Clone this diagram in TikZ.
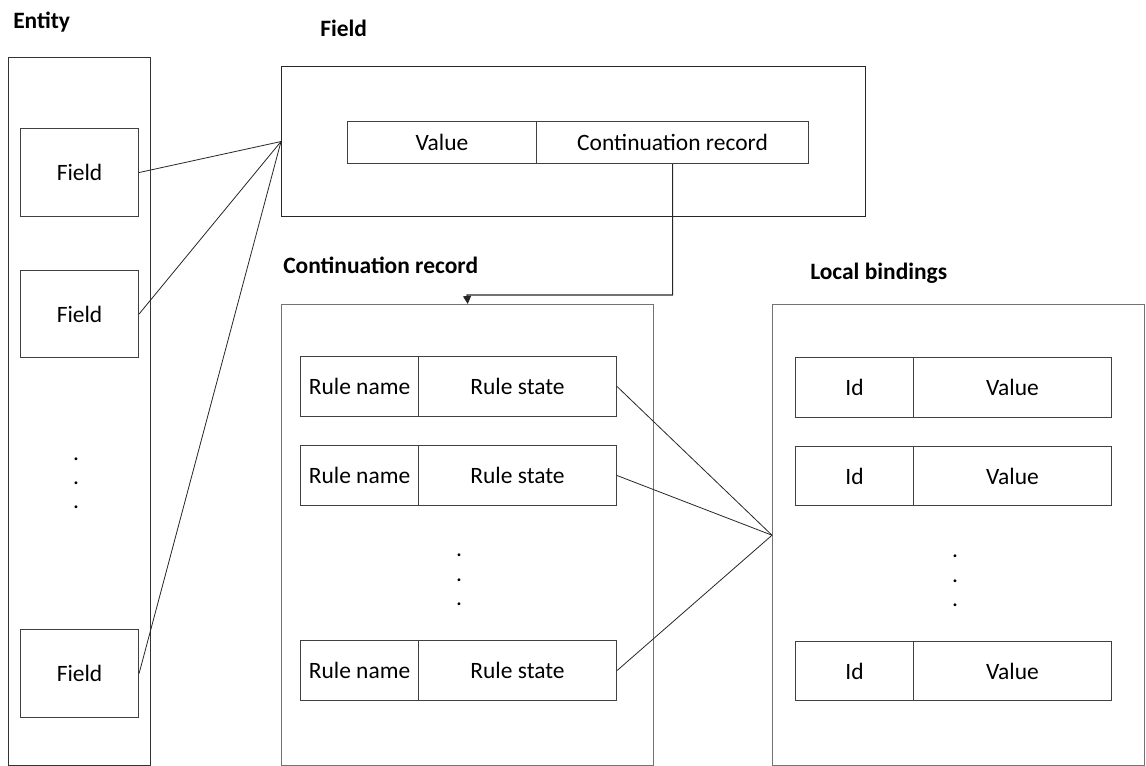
\documentclass[tikz,border=0pt]{standalone}
\usepackage{fontspec}
\setmainfont{Carlito}
\usetikzlibrary{arrows.meta}
\begin{document}
\begin{tikzpicture}[x=0.75pt,y=-0.75pt,
  bx/.style 2 args={draw=black!75, line width=0.8pt, minimum width=#1*0.75pt, minimum height=#2*0.75pt, inner sep=0pt, anchor=north west, font=\fontsize{17.6}{21}\selectfont},
  outer/.style={draw=black!55, line width=1.1pt},
  title/.style={anchor=west, inner sep=0pt, font=\fontsize{17.6}{21}\selectfont\bfseries},
  dotn/.style={inner sep=0pt, font=\fontsize{17.6}{21}\selectfont},
  conn/.style={draw=black!85, line width=0.6pt}
]
\useasboundingbox (0,0) rectangle (1146,766);
% titles
\node[title] (tEntity) at (13,22) {Entity};
\node[title] (tField) at (320,28) {Field};
\node[title] (tCR) at (283,265) {Continuation record};
\node[title] (tLB) at (810,273) {Local bindings};
% entity
\node[bx={142}{708}, draw=black!80] (entity) at (8,57) {};
\node[bx={118}{88}] (f1) at (20,128) {Field};
\node[bx={118}{87}] (f2) at (20,270) {Field};
\node[bx={118}{88}] (f3) at (20,629) {Field};
\node[dotn] (ed1) at (76,459) {.};
\node[dotn] (ed2) at (76,483) {.};
\node[dotn] (ed3) at (76,507) {.};
% field
\node[bx={584}{150}, draw=black!85] (fieldbox) at (281,66) {};
\node[bx={189}{42}] (val) at (347,121) {Value};
\node[bx={272}{42}] (cont) at (536,121) {Continuation record};
% continuation record
\node[bx={372}{461}, outer] (crbox) at (281,304) {};
\node[bx={118}{60}] (rn1) at (300,356) {Rule name};
\node[bx={198}{60}] (rs1) at (418,356) {Rule state};
\node[bx={118}{60}] (rn2) at (300,445) {Rule name};
\node[bx={198}{60}] (rs2) at (418,445) {Rule state};
\node[bx={118}{60}] (rn3) at (300,640) {Rule name};
\node[bx={198}{60}] (rs3) at (418,640) {Rule state};
\node[dotn] (cd1) at (459,555) {.};
\node[dotn] (cd2) at (459,580) {.};
\node[dotn] (cd3) at (459,604) {.};
% local bindings
\node[bx={372}{461}, outer] (lb) at (772,304) {};
\node[bx={118}{60}] (id1) at (795,357) {Id};
\node[bx={198}{60}] (v1) at (913,357) {Value};
\node[bx={118}{59}] (id2) at (795,446) {Id};
\node[bx={198}{59}] (v2) at (913,446) {Value};
\node[bx={118}{59}] (id3) at (795,641) {Id};
\node[bx={198}{59}] (v3) at (913,641) {Value};
\node[dotn] (ld1) at (955,556) {.};
\node[dotn] (ld2) at (955,581) {.};
\node[dotn] (ld3) at (955,605) {.};
% connectors
\draw[conn] (f1.east) -- (fieldbox.west);
\draw[conn] (f2.east) -- (fieldbox.west);
\draw[conn] (f3.east) -- (fieldbox.west);
\draw[conn] (rs1.east) -- (lb.west);
\draw[conn] (rs2.east) -- (lb.west);
\draw[conn] (rs3.east) -- (lb.west);
\coordinate (bend) at (467,295);
\draw[conn, line width=0.8pt, -{Triangle[width=6pt,length=6pt]}] (cont.south) |- (bend) -- (crbox.north);
\end{tikzpicture}
\end{document}
